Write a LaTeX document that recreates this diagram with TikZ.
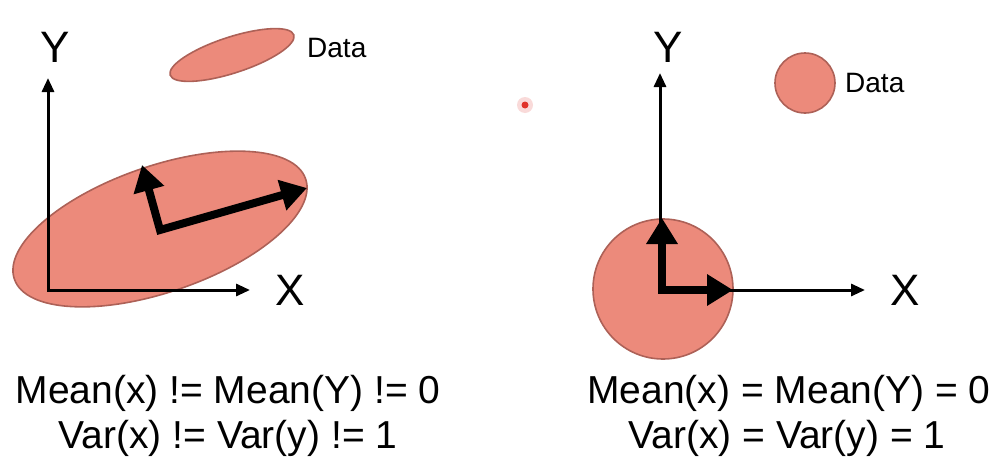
\documentclass[tikz,border=0pt]{standalone}
\usepackage{fontspec}
\setmainfont{Liberation Sans}
\usetikzlibrary{positioning,shapes.geometric,arrows.meta,calc}
\definecolor{blob}{HTML}{EC8A7B}
\definecolor{blobedge}{HTML}{AD6157}
\definecolor{pointer}{HTML}{E0322A}
\tikzset{
  blob/.style={draw=blobedge,fill=blob,line width=1.6pt,inner sep=0pt},
  axis/.style={{Triangle[length=14pt,width=12pt]}-{Triangle[length=14pt,width=12pt]},
               line width=3pt,line join=miter},
  pc/.style={{Triangle[length=26pt,width=30pt]}-{Triangle[length=26pt,width=30pt]},
             line width=8pt,line join=miter},
  axlabel/.style={font=\fontsize{44}{44}\selectfont,inner sep=0pt},
  legend/.style={font=\fontsize{28}{28}\selectfont,anchor=west,inner sep=0pt},
  stat/.style={font=\fontsize{39}{46}\selectfont,anchor=base,inner sep=0pt},
}

\begin{document}
\begin{tikzpicture}[x=1pt,y=-1pt]
  \useasboundingbox (0,0) rectangle (994,474);

  % data clouds
  \node[blob,ellipse,minimum width=308pt,minimum height=126pt,rotate=19] (cloudL) at (160,229) {};
  \node[blob,circle,minimum size=140pt] (cloudR) at (663,289) {};

  % legends
  \node[blob,ellipse,minimum width=130pt,minimum height=36pt,rotate=18] (keyL) at (232,55) {};
  \node[legend] (keyLtxt) at (307,48) {Data};
  \node[blob,circle,minimum size=60pt] (keyR) at (805,83) {};
  \node[legend] (keyRtxt) at (845,83) {Data};

  % axes
  \foreach \n/\ox/\yt/\xt in {L/48/78/250, R/660/73/865}{
    \coordinate (o\n) at (\ox,290);
    \coordinate (ytip\n) at (\ox,\yt);
    \coordinate (xtip\n) at (\xt,290);
    \draw[axis] (ytip\n) -- (o\n) -- (xtip\n);
  }
  \node[axlabel] (yL) at (55,47) {Y};
  \node[axlabel] (xL) at (290,290) {X};
  \node[axlabel] (yR) at (668,47) {Y};
  \node[axlabel] (xR) at (905,290) {X};

  % principal directions
  \coordinate (pcL) at (160,230);
  \coordinate (pcLup) at (142,165);
  \coordinate (pcLrt) at (307,188);
  \draw[pc] (pcLup) -- (pcL) -- (pcLrt);
  \coordinate (pcR) at (662,290);
  \coordinate (pcRup) at (662,218);
  \coordinate (pcRrt) at (733,290);
  \draw[pc] (pcRup) -- (pcR) -- (pcRrt);

  % pointer dot
  \fill[pointer!18] (525,105) circle (8pt);
  \fill[pointer] (525,105) circle (3.5pt);

  % statistics
  \node[stat] (statL1) at (228,403) {Mean(x) != Mean(Y) != 0};
  \node[stat] (statL2) at (228,448) {Var(x) != Var(y) != 1};
  \node[stat] (statR1) at (789,403) {Mean(x) = Mean(Y) = 0};
  \node[stat] (statR2) at (787,448) {Var(x) = Var(y) = 1};
\end{tikzpicture}
\end{document}
